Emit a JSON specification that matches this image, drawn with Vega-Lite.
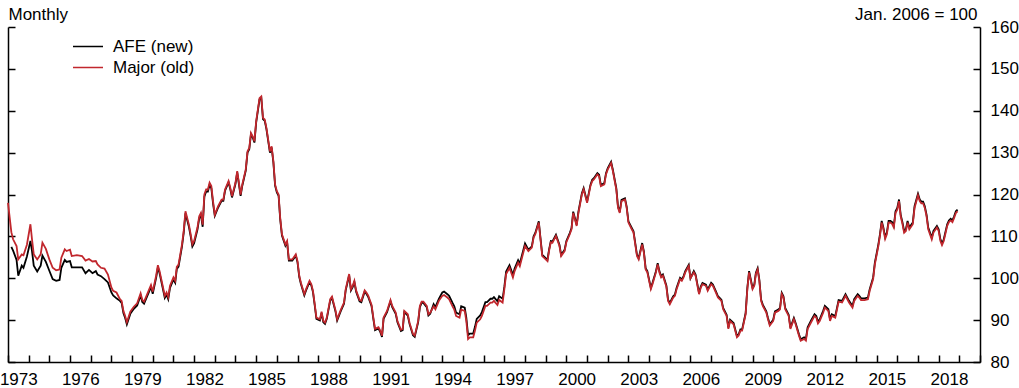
{
"$schema": "https://vega.github.io/schema/vega-lite/v6.json",
"width": 972, "height": 335,
"autosize": {"type": "none"},
"padding": {"left": 8, "top": 27, "right": 39, "bottom": 26},
"background": "white",
"config": {"view": {"stroke": null}, "font": "Liberation Sans",
 "axis": {"grid": false, "domainColor": "#000", "tickColor": "#000", "labelColor": "#000", "titleColor": "#000", "labelFont": "Liberation Sans", "titleFont": "Liberation Sans", "labelFontSize": 17, "titleFontSize": 17, "titleFontWeight": "normal", "domainWidth": 1.5, "tickWidth": 1.5}},
"data": {"format": {"parse": {"d": "utc:'%Y-%m'"}}, "values": [
{"d":"1973-01","m":118},
{"d":"1973-03","a":107.5,"m":111},
{"d":"1973-04","a":106.6,"m":109.3},
{"d":"1973-06","a":104.4,"m":107.7},
{"d":"1973-07","a":100.6,"m":104.5},
{"d":"1973-09","a":103,"m":105.7},
{"d":"1973-10","a":102.5,"m":105.5},
{"d":"1973-12","a":105.2,"m":108},
{"d":"1974-02","a":108.9,"m":112.9},
{"d":"1974-03","a":106.5,"m":109.3},
{"d":"1974-04","a":103,"m":105.7},
{"d":"1974-06","a":101.6,"m":104.5},
{"d":"1974-08","a":103,"m":105.7},
{"d":"1974-09","a":105.4,"m":108.5},
{"d":"1974-11","a":103.9,"m":107},
{"d":"1975-01","a":101.8,"m":104.5},
{"d":"1975-03","a":99.8,"m":102.5},
{"d":"1975-05","a":99.4,"m":101.9},
{"d":"1975-07","a":99.6,"m":102.1},
{"d":"1975-08","a":102.5,"m":104.9},
{"d":"1975-10","a":104.4,"m":106.9},
{"d":"1975-11","a":103.9,"m":106.5},
{"d":"1976-01","a":104.1,"m":106.8},
{"d":"1976-02","a":102.6,"m":105.3},
{"d":"1976-05","a":102.6,"m":105.5},
{"d":"1976-08","a":102.6,"m":105.3},
{"d":"1976-10","a":101.2,"m":104.2},
{"d":"1976-12","a":102,"m":104.6},
{"d":"1977-02","a":101.2,"m":104},
{"d":"1977-04","a":101.7,"m":104.1},
{"d":"1977-05","a":100.9,"m":103.3},
{"d":"1977-07","a":100.5,"m":102.5},
{"d":"1977-09","a":99.8,"m":102.3},
{"d":"1977-11","a":99,"m":100.9},
{"d":"1978-01","a":96.6,"m":97.8},
{"d":"1978-02","a":95.9,"m":97},
{"d":"1978-04","a":95.2,"m":96.6},
{"d":"1978-06","a":94.6,"m":95},
{"d":"1978-07","a":94.1,"m":94.6},
{"d":"1978-08","a":91.7,"m":92.2},
{"d":"1978-09","a":90.5,"m":91},
{"d":"1978-10","a":89,"m":89.5},
{"d":"1978-12","a":91.5,"m":92},
{"d":"1979-02","a":92.7,"m":93.2},
{"d":"1979-04","a":93.5,"m":94},
{"d":"1979-06","a":95.9,"m":96.4},
{"d":"1979-07","a":94.3,"m":94.8},
{"d":"1979-08","a":93.9,"m":94.4},
{"d":"1979-10","a":95.9,"m":96.4},
{"d":"1979-12","a":97.9,"m":98.4},
{"d":"1980-01","a":96.3,"m":96.8},
{"d":"1980-03","a":100.1,"m":100.6},
{"d":"1980-04","a":102.6,"m":103.1},
{"d":"1980-05","a":101.2,"m":101.7},
{"d":"1980-07","a":97.3,"m":97.8},
{"d":"1980-08","a":95.3,"m":95.8},
{"d":"1980-09","a":96.1,"m":96.6},
{"d":"1980-10","a":95,"m":95.5},
{"d":"1980-11","a":97.7,"m":98.2},
{"d":"1981-01","a":99.7,"m":100.2},
{"d":"1981-02","a":98.9,"m":99.4},
{"d":"1981-03","a":102.2,"m":102.7},
{"d":"1981-04","a":102.8,"m":103.3},
{"d":"1981-06","a":107.6,"m":108.1},
{"d":"1981-07","a":110.8,"m":111.3},
{"d":"1981-08","a":115.5,"m":116},
{"d":"1981-10","a":112.3,"m":112.8},
{"d":"1981-11","a":110,"m":110.5},
{"d":"1981-12","a":107.6,"m":108.1},
{"d":"1982-01","a":108.4,"m":108.9},
{"d":"1982-03","a":111.6,"m":112.1},
{"d":"1982-04","a":114.3,"m":114.8},
{"d":"1982-05","a":115.1,"m":115.6},
{"d":"1982-06","a":112.3,"m":112.8},
{"d":"1982-07","a":119.5,"m":120},
{"d":"1982-08","a":120.7,"m":121.2},
{"d":"1982-09","a":120.7,"m":121.2},
{"d":"1982-10","a":122.3,"m":122.8},
{"d":"1982-11","a":121.5,"m":122},
{"d":"1982-12","a":117.9,"m":118.4},
{"d":"1983-01","a":114.9,"m":115.2},
{"d":"1983-03","a":116.9,"m":117.2},
{"d":"1983-05","a":118.5,"m":118.8},
{"d":"1983-06","a":118.5,"m":118.8},
{"d":"1983-07","a":120.9,"m":121.2},
{"d":"1983-09","a":122.9,"m":123.2},
{"d":"1983-10","a":121.3,"m":121.6},
{"d":"1983-11","a":119.3,"m":119.6},
{"d":"1984-01","a":122.5,"m":122.8},
{"d":"1984-02","a":125.3,"m":125.6},
{"d":"1984-04","a":119.7,"m":120},
{"d":"1984-05","a":122.1,"m":122.4},
{"d":"1984-07","a":125.7,"m":126},
{"d":"1984-08","a":130,"m":130.3},
{"d":"1984-09","a":130.8,"m":131.1},
{"d":"1984-10","a":134.4,"m":134.7},
{"d":"1984-11","a":133.6,"m":133.9},
{"d":"1984-12","a":132.4,"m":132.7},
{"d":"1985-01","a":137.2,"m":137.5},
{"d":"1985-03","a":142.7,"m":143},
{"d":"1985-04","a":143.1,"m":143.4},
{"d":"1985-05","a":138,"m":138.3},
{"d":"1985-06","a":137.6,"m":137.9},
{"d":"1985-07","a":135.6,"m":135.9},
{"d":"1985-09","a":130,"m":130.3},
{"d":"1985-10","a":131.2,"m":131.5},
{"d":"1985-11","a":127.6,"m":127.9},
{"d":"1985-12","a":122.1,"m":122.4},
{"d":"1986-01","a":120.5,"m":120.8},
{"d":"1986-02","a":119.7,"m":120},
{"d":"1986-03","a":114.1,"m":114.4},
{"d":"1986-04","a":110.2,"m":110.5},
{"d":"1986-06","a":107.8,"m":108.1},
{"d":"1986-07","a":108.6,"m":108.9},
{"d":"1986-08","a":104.2,"m":104.5},
{"d":"1986-10","a":104.2,"m":104.5},
{"d":"1986-12","a":105.4,"m":105.7},
{"d":"1987-01","a":103.8,"m":104.1},
{"d":"1987-02","a":100.3,"m":100.6},
{"d":"1987-03","a":98.7,"m":99},
{"d":"1987-05","a":95.9,"m":96.2},
{"d":"1987-06","a":97.1,"m":97.4},
{"d":"1987-08","a":99.1,"m":99.4},
{"d":"1987-09","a":98.3,"m":98.6},
{"d":"1987-10","a":96.7,"m":97},
{"d":"1987-11","a":93.5,"m":93.8},
{"d":"1987-12","a":90.3,"m":90.6},
{"d":"1988-02","a":89.9,"m":90.2},
{"d":"1988-03","a":91.7,"m":92},
{"d":"1988-04","a":89.5,"m":89.8},
{"d":"1988-05","a":89.1,"m":89.4},
{"d":"1988-06","a":90.3,"m":90.6},
{"d":"1988-08","a":94.7,"m":95},
{"d":"1988-09","a":95.3,"m":95.6},
{"d":"1988-11","a":92.1,"m":92.4},
{"d":"1988-12","a":89.9,"m":90.2},
{"d":"1989-02","a":92.1,"m":92.4},
{"d":"1989-04","a":93.9,"m":94.2},
{"d":"1989-05","a":97.1,"m":97.4},
{"d":"1989-07","a":100.7,"m":101},
{"d":"1989-08","a":97.1,"m":97.4},
{"d":"1989-09","a":97.9,"m":98.2},
{"d":"1989-10","a":99.1,"m":99.4},
{"d":"1989-11","a":96.8,"m":97.1},
{"d":"1990-01","a":94.5,"m":94.8},
{"d":"1990-02","a":94.3,"m":94.6},
{"d":"1990-04","a":96.8,"m":97.1},
{"d":"1990-05","a":96.3,"m":96.6},
{"d":"1990-06","a":95.6,"m":95.9},
{"d":"1990-08","a":93.3,"m":93.6},
{"d":"1990-09","a":90.3,"m":90.6},
{"d":"1990-10","a":87.6,"m":87.9},
{"d":"1990-12","a":88,"m":88.3},
{"d":"1991-01","a":87.2,"m":87.5},
{"d":"1991-02","a":86,"m":86.3},
{"d":"1991-03","a":90.3,"m":90.6},
{"d":"1991-05","a":91.9,"m":92.2},
{"d":"1991-07","a":94.5,"m":94.8},
{"d":"1991-08","a":93.1,"m":93.4},
{"d":"1991-10","a":91.5,"m":91.8},
{"d":"1991-11","a":89.5,"m":89.8},
{"d":"1992-01","a":87.4,"m":87.7},
{"d":"1992-02","a":87.6,"m":87.9},
{"d":"1992-03","a":91.9,"m":92.2},
{"d":"1992-05","a":91.1,"m":91.4},
{"d":"1992-06","a":89.1,"m":89.4},
{"d":"1992-08","a":86.4,"m":86.7},
{"d":"1992-09","a":86,"m":86.3},
{"d":"1992-11","a":89.5,"m":89.8},
{"d":"1992-12","a":93.1,"m":93.4},
{"d":"1993-01","a":94.1,"m":94.4},
{"d":"1993-02","a":94.1,"m":94.4},
{"d":"1993-04","a":93.1,"m":93.4},
{"d":"1993-05","a":91.1,"m":91.4},
{"d":"1993-06","a":91.5,"m":91.8},
{"d":"1993-08","a":93.8,"m":93.3},
{"d":"1993-09","a":93.1,"m":92.6},
{"d":"1993-11","a":95.1,"m":94.6},
{"d":"1994-01","a":96.6,"m":95.8},
{"d":"1994-02","a":96.8,"m":96},
{"d":"1994-04","a":96.2,"m":95.4},
{"d":"1994-05","a":95.8,"m":95},
{"d":"1994-07","a":94.1,"m":93.3},
{"d":"1994-08","a":93.3,"m":92.5},
{"d":"1994-09","a":91.8,"m":91},
{"d":"1994-11","a":91.4,"m":90.6},
{"d":"1994-12","a":93.3,"m":92.5},
{"d":"1995-02","a":93,"m":92.2},
{"d":"1995-03","a":90.6,"m":89.8},
{"d":"1995-04","a":86.4,"m":85.5},
{"d":"1995-05","a":86.8,"m":85.9},
{"d":"1995-07","a":86.8,"m":85.9},
{"d":"1995-08","a":88.4,"m":87.5},
{"d":"1995-09","a":90.3,"m":89.4},
{"d":"1995-11","a":91.1,"m":90.2},
{"d":"1995-12","a":91.9,"m":91},
{"d":"1996-02","a":94.3,"m":93.4},
{"d":"1996-03","a":94.3,"m":93.4},
{"d":"1996-05","a":95.1,"m":94.2},
{"d":"1996-06","a":95.1,"m":94.2},
{"d":"1996-07","a":95.5,"m":94.6},
{"d":"1996-09","a":94.5,"m":93.6},
{"d":"1996-10","a":95.7,"m":94.8},
{"d":"1996-12","a":95.1,"m":94.2},
{"d":"1997-01","a":98,"m":97.4},
{"d":"1997-02","a":101.6,"m":101},
{"d":"1997-04","a":103.1,"m":102.5},
{"d":"1997-06","a":100.8,"m":100.2},
{"d":"1997-07","a":102.3,"m":101.7},
{"d":"1997-09","a":104.3,"m":103.7},
{"d":"1997-10","a":103.5,"m":102.9},
{"d":"1997-12","a":106.7,"m":106.1},
{"d":"1998-01","a":108.3,"m":107.7},
{"d":"1998-03","a":106.8,"m":106.5},
{"d":"1998-05","a":107.6,"m":107.3},
{"d":"1998-06","a":110,"m":109.7},
{"d":"1998-07","a":110.8,"m":110.5},
{"d":"1998-09","a":113.6,"m":113.3},
{"d":"1998-10","a":109.6,"m":109.3},
{"d":"1998-11","a":105.6,"m":105.3},
{"d":"1998-12","a":105.2,"m":104.9},
{"d":"1999-02","a":104.4,"m":104.1},
{"d":"1999-03","a":106.8,"m":106.5},
{"d":"1999-04","a":108.9,"m":108.6},
{"d":"1999-05","a":108.8,"m":108.5},
{"d":"1999-07","a":110.4,"m":110.1},
{"d":"1999-09","a":108,"m":107.7},
{"d":"1999-10","a":105.6,"m":105.3},
{"d":"1999-12","a":106.8,"m":106.5},
{"d":"2000-01","a":108.9,"m":108.6},
{"d":"2000-03","a":110.8,"m":110.5},
{"d":"2000-04","a":112,"m":111.7},
{"d":"2000-05","a":115.9,"m":115.6},
{"d":"2000-07","a":112.8,"m":112.5},
{"d":"2000-08","a":115.9,"m":115.6},
{"d":"2000-10","a":120.3,"m":120},
{"d":"2000-11","a":121.5,"m":121.2},
{"d":"2001-01","a":118.3,"m":118},
{"d":"2001-03","a":122.3,"m":122},
{"d":"2001-04","a":123.5,"m":123.2},
{"d":"2001-05","a":123.9,"m":123.6},
{"d":"2001-07","a":125.1,"m":124.8},
{"d":"2001-08","a":124.7,"m":124.4},
{"d":"2001-09","a":122.3,"m":122},
{"d":"2001-11","a":122.7,"m":122.4},
{"d":"2001-12","a":125.1,"m":124.8},
{"d":"2002-01","a":126.3,"m":126},
{"d":"2002-03","a":127.8,"m":127.5},
{"d":"2002-04","a":125.9,"m":125.6},
{"d":"2002-06","a":121.5,"m":121.2},
{"d":"2002-07","a":117.1,"m":116.8},
{"d":"2002-08","a":115.9,"m":115.6},
{"d":"2002-09","a":118.7,"m":118.4},
{"d":"2002-11","a":119.1,"m":118.8},
{"d":"2002-12","a":117.1,"m":116.8},
{"d":"2003-01","a":113.6,"m":113.3},
{"d":"2003-03","a":112,"m":111.7},
{"d":"2003-04","a":111.2,"m":110.9},
{"d":"2003-06","a":105.6,"m":105.3},
{"d":"2003-07","a":104.8,"m":104.5},
{"d":"2003-09","a":108.4,"m":108.1},
{"d":"2003-10","a":106.4,"m":106.1},
{"d":"2003-11","a":102.4,"m":102.1},
{"d":"2003-12","a":101.7,"m":101.4},
{"d":"2004-02","a":97.7,"m":97.4},
{"d":"2004-03","a":98.9,"m":98.6},
{"d":"2004-05","a":101.7,"m":101.4},
{"d":"2004-06","a":103.6,"m":103.3},
{"d":"2004-07","a":101.7,"m":101.4},
{"d":"2004-08","a":100.5,"m":100.2},
{"d":"2004-09","a":100.9,"m":100.6},
{"d":"2004-11","a":98.3,"m":98},
{"d":"2004-12","a":94.9,"m":94.6},
{"d":"2005-01","a":94.1,"m":93.8},
{"d":"2005-03","a":95.7,"m":95.4},
{"d":"2005-04","a":96.1,"m":95.8},
{"d":"2005-05","a":97.7,"m":97.4},
{"d":"2005-07","a":100.1,"m":99.8},
{"d":"2005-08","a":99.7,"m":99.4},
{"d":"2005-09","a":100.5,"m":100.2},
{"d":"2005-10","a":101.7,"m":101.4},
{"d":"2005-12","a":103.2,"m":102.9},
{"d":"2006-01","a":100,"m":100},
{"d":"2006-03","a":101.7,"m":101.4},
{"d":"2006-04","a":100.9,"m":100.6},
{"d":"2006-06","a":96.5,"m":96.2},
{"d":"2006-07","a":98,"m":97.7},
{"d":"2006-08","a":98.9,"m":98.6},
{"d":"2006-10","a":98.5,"m":98.2},
{"d":"2006-11","a":97.3,"m":97},
{"d":"2007-01","a":98.9,"m":98.6},
{"d":"2007-02","a":98.5,"m":98.2},
{"d":"2007-04","a":96.7,"m":96.4},
{"d":"2007-05","a":95.7,"m":95.4},
{"d":"2007-07","a":94.9,"m":94.6},
{"d":"2007-08","a":92.9,"m":92.6},
{"d":"2007-10","a":91.3,"m":91},
{"d":"2007-11","a":88.2,"m":87.9},
{"d":"2007-12","a":90.1,"m":89.8},
{"d":"2008-02","a":89.3,"m":89},
{"d":"2008-04","a":86.2,"m":85.9},
{"d":"2008-05","a":86.6,"m":86.3},
{"d":"2008-06","a":87.8,"m":87.5},
{"d":"2008-07","a":87.8,"m":87.5},
{"d":"2008-09","a":91.7,"m":91.4},
{"d":"2008-10","a":97.7,"m":97.4},
{"d":"2008-11","a":101.7,"m":101.4},
{"d":"2009-01","a":97.7,"m":97.4},
{"d":"2009-02","a":98.5,"m":98.2},
{"d":"2009-03","a":101.3,"m":101},
{"d":"2009-04","a":102.4,"m":102.1},
{"d":"2009-05","a":99.7,"m":99.4},
{"d":"2009-06","a":94.9,"m":94.6},
{"d":"2009-07","a":93.7,"m":93.4},
{"d":"2009-09","a":92.1,"m":91.8},
{"d":"2009-10","a":90.5,"m":90.2},
{"d":"2009-11","a":89,"m":88.7},
{"d":"2010-01","a":90.1,"m":89.8},
{"d":"2010-02","a":92.1,"m":91.8},
{"d":"2010-04","a":92.5,"m":92.2},
{"d":"2010-05","a":92.9,"m":92.6},
{"d":"2010-06","a":96.5,"m":96.2},
{"d":"2010-07","a":95.7,"m":95.4},
{"d":"2010-08","a":92.9,"m":92.6},
{"d":"2010-10","a":91.3,"m":91},
{"d":"2010-11","a":88.2,"m":87.9},
{"d":"2011-01","a":90.5,"m":90.2},
{"d":"2011-02","a":89.3,"m":89},
{"d":"2011-04","a":86.6,"m":86.3},
{"d":"2011-05","a":85.4,"m":85.1},
{"d":"2011-07","a":85.9,"m":85.5},
{"d":"2011-08","a":85.5,"m":85.1},
{"d":"2011-09","a":88.3,"m":87.9},
{"d":"2011-11","a":89.9,"m":89.5},
{"d":"2012-01","a":91.4,"m":91},
{"d":"2012-02","a":91,"m":90.6},
{"d":"2012-03","a":89.6,"m":89.2},
{"d":"2012-04","a":90.2,"m":89.8},
{"d":"2012-06","a":92.2,"m":91.8},
{"d":"2012-07","a":93.4,"m":93},
{"d":"2012-09","a":92.6,"m":92.2},
{"d":"2012-10","a":90.2,"m":89.8},
{"d":"2012-11","a":91.4,"m":91},
{"d":"2013-01","a":91,"m":90.6},
{"d":"2013-02","a":93,"m":92.6},
{"d":"2013-03","a":94.8,"m":94.4},
{"d":"2013-05","a":94.6,"m":94.2},
{"d":"2013-06","a":95.4,"m":95},
{"d":"2013-07","a":96.2,"m":95.8},
{"d":"2013-09","a":94.6,"m":94.2},
{"d":"2013-11","a":93.4,"m":93},
{"d":"2013-12","a":95,"m":94.6},
{"d":"2014-02","a":96.2,"m":95.8},
{"d":"2014-03","a":95.8,"m":95.4},
{"d":"2014-04","a":95.2,"m":94.8},
{"d":"2014-06","a":95.2,"m":94.8},
{"d":"2014-08","a":95.4,"m":95},
{"d":"2014-09","a":97.4,"m":97},
{"d":"2014-11","a":100.2,"m":99.8},
{"d":"2014-12","a":103.7,"m":103.3},
{"d":"2015-02","a":108.1,"m":107.7},
{"d":"2015-03","a":110.5,"m":110.1},
{"d":"2015-04","a":113.7,"m":113.3},
{"d":"2015-05","a":112.1,"m":111.7},
{"d":"2015-06","a":109.8,"m":109.4},
{"d":"2015-07","a":110.9,"m":110.5},
{"d":"2015-08","a":113.7,"m":113.3},
{"d":"2015-09","a":113.7,"m":113.3},
{"d":"2015-10","a":113.4,"m":113},
{"d":"2015-11","a":112.5,"m":112.1},
{"d":"2015-12","a":116,"m":115.6},
{"d":"2016-01","a":116.8,"m":116.4},
{"d":"2016-02","a":118.8,"m":118.4},
{"d":"2016-03","a":115.2,"m":114.8},
{"d":"2016-04","a":113.4,"m":113},
{"d":"2016-05","a":111.3,"m":110.9},
{"d":"2016-06","a":111.7,"m":111.3},
{"d":"2016-07","a":113.7,"m":113.3},
{"d":"2016-08","a":112.1,"m":111.7},
{"d":"2016-10","a":113.3,"m":112.9},
{"d":"2016-11","a":117.2,"m":116.8},
{"d":"2017-01","a":120.2,"m":119.8},
{"d":"2017-02","a":118.8,"m":118.4},
{"d":"2017-03","a":118.3,"m":117.9},
{"d":"2017-04","a":118.3,"m":117.9},
{"d":"2017-05","a":117.2,"m":116.8},
{"d":"2017-06","a":115.2,"m":114.8},
{"d":"2017-07","a":112.1,"m":111.7},
{"d":"2017-09","a":109.7,"m":109.3},
{"d":"2017-10","a":111.3,"m":110.9},
{"d":"2017-12","a":112.5,"m":112.1},
{"d":"2018-01","a":111.7,"m":111.3},
{"d":"2018-02","a":109.3,"m":108.9},
{"d":"2018-03","a":108.3,"m":107.9},
{"d":"2018-04","a":109.3,"m":108.9},
{"d":"2018-06","a":112.9,"m":112.5},
{"d":"2018-07","a":113.8,"m":113.4},
{"d":"2018-08","a":114.2,"m":113.8},
{"d":"2018-09","a":113.8,"m":113.4},
{"d":"2018-10","a":114.8,"m":114.4},
{"d":"2018-11","a":116,"m":115.6},
{"d":"2018-12","a":116.4,"m":116}
]},
"encoding": {
 "x": {"field": "d", "type": "temporal",
  "scale": {"type": "utc", "domain": [{"year": 1973, "month": 1, "date": 1, "utc": true}, {"year": 2020, "month": 1, "date": 1, "utc": true}]},
  "axis": {"title": null, "tickCount": {"interval": "year", "step": 1}, "tickSize": -7, "labelPadding": 16, "labelOffset": 10.3, "labelOverlap": false, "labelFlush": false, "labelBound": false,
   "labelExpr": "utcyear(datum.value) % 3 == 2 ? utcFormat(datum.value, '%Y') : ''"}}
},
"layer": [
 {"mark": {"type": "line", "strokeWidth": 1.8, "interpolate": "linear"},
  "encoding": {
   "y": {"field": "a", "type": "quantitative", "scale": {"domain": [80, 160], "nice": false, "zero": false},
    "axis": {"orient": "left", "values": [80, 90, 100, 110, 120, 130, 140, 150, 160], "tickSize": -7, "labels": false,
     "title": "Monthly", "titleAngle": 0, "titleAlign": "left", "titleBaseline": "alphabetic", "titleX": 0, "titleY": -8}},
   "color": {"datum": "AFE (new)", "type": "nominal",
    "scale": {"domain": ["AFE (new)", "Major (old)"], "range": ["#000000", "#c1272d"]},
    "legend": {"orient": "none", "legendX": 64, "legendY": 10, "title": null, "symbolType": "stroke", "symbolSize": 900, "symbolStrokeWidth": 1.6,
     "labelFontSize": 17, "labelFont": "Liberation Sans", "labelOffset": 9, "padding": 0, "clipHeight": 19, "rowPadding": 2, "labelLimit": 300}}
  }},
 {"mark": {"type": "line", "strokeWidth": 1.8, "interpolate": "linear"},
  "encoding": {
   "y": {"field": "m", "type": "quantitative", "scale": {"domain": [80, 160], "nice": false, "zero": false},
    "axis": {"orient": "right", "values": [80, 90, 100, 110, 120, 130, 140, 150, 160], "tickSize": -7, "labelPadding": 17,
     "title": "Jan. 2006 = 100", "titleAngle": 0, "titleAlign": "right", "titleBaseline": "alphabetic", "titleX": -3, "titleY": -8}},
   "color": {"datum": "Major (old)", "type": "nominal"}
  }}
],
"resolve": {"axis": {"y": "independent"}}
}
